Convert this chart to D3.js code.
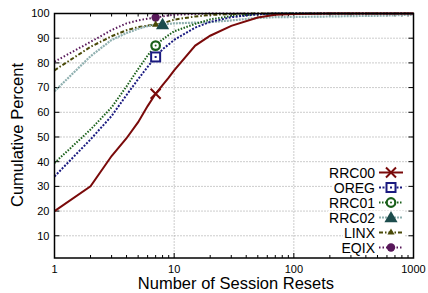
<!DOCTYPE html>
<html>
<head>
<meta charset="utf-8">
<script src="https://cdn.jsdelivr.net/npm/d3@7"></script>
<style>
  body { margin: 0; background: #fff; }
  text { font-family: "Liberation Sans", Arial, sans-serif; }
</style>
</head>
<body>
<div id="chart"></div>
<script>
// data
const resets = [1, 2, 3, 4, 5, 6, 7, 8, 9, 10, 15, 20, 30, 50, 70, 100, 200, 500, 1000];
const rrc00 = [20, 30, 42.3, 49.5, 56, 62.5, 67.5, 71, 74, 77, 87, 91, 95, 98.4, 99.5, 99.8, 100, 100, 100];
const oreg  = [34, 49, 58.5, 67, 73.4, 78.4, 82.4, 85.5, 87.5, 89.3, 94.3, 96.6, 98.5, 99.7, 100, 100, 100, 100, 100];
const rrc01 = [39.5, 53, 62, 70.5, 77.5, 83, 87, 89.5, 91.3, 92.8, 95.8, 97.6, 99, 99.7, 100, 100, 100, 100, 100];
const rrc02 = [68.5, 82.7, 89.3, 92.1, 93.8, 94.9, 95.4, 95.6, 95.8, 96, 96.3, 96.5, 97.2, 98.2, 98.5, 98.6, 98.8, 99.1, 99.5];
const linx  = [77, 86.5, 90.8, 93.2, 94.5, 95.1, 95.5, 96, 96.8, 97.5, 98.8, 99.4, 99.8, 100, 100, 100, 100, 100, 100];
const eqix  = [80.5, 88.5, 93.3, 96, 97.2, 97.9, 98.4, 98.8, 99.2, 99.5, 99.8, 100, 100, 100, 100, 100, 100, 100, 100];
const seriesNames = ["RRC00", "OREG", "RRC01", "RRC02", "LINX", "EQIX"];
const markerAt = [7, 7, 7, 8, 7, 7];
const yTicks = [10, 20, 30, 40, 50, 60, 70, 80, 90, 100];
const xTicks = [1, 10, 100, 1000];

const allValues = [rrc00, oreg, rrc01, rrc02, linx, eqix];

// looks, one per series
const styles = [
  { color: "#7a0a0a", dash: null,      width: 2,   marker: "cross" },
  { color: "#1a1a80", dash: "2,1.5",   width: 2,   marker: "square" },
  { color: "#1a601a", dash: "1.5,1.5", width: 2,   marker: "circle" },
  { color: "#8fb0b0", dash: "2,1",     width: 2.2, marker: "triangle", mcolor: "#1c4c4c" },
  { color: "#4a4a08", dash: "4,2,1.5,2", width: 2, marker: "smalltri" },
  { color: "#58185a", dash: "1.5,2",   width: 2,   marker: "dot" }
];

const W = 428, H = 293;
const margin = { top: 13.5, right: 14.5, bottom: 35, left: 54.5 };
const width = W - margin.left - margin.right,
  height = H - margin.top - margin.bottom;

const svg = d3.select("#chart").append("svg")
  .attr("width", W)
  .attr("height", H);

const g = svg.append("g")
  .attr("transform", "translate(" + margin.left + "," + margin.top + ")");

const x = d3.scaleLog().domain([1, 1000]).range([0, width]);
const y = d3.scaleLinear().domain([1, 100]).range([height, 0]);

// grid
g.append("g").selectAll("line")
  .data(yTicks.filter(d => d < 100)).enter().append("line")
    .attr("x1", 0).attr("x2", width)
    .attr("y1", d => y(d)).attr("y2", d => y(d))
    .attr("stroke", "#999").attr("stroke-width", 1)
    .attr("stroke-dasharray", "1,2");
g.append("g").selectAll("line")
  .data([10, 100]).enter().append("line")
    .attr("x1", d => x(d)).attr("x2", d => x(d))
    .attr("y1", 0).attr("y2", height)
    .attr("stroke", "#999").attr("stroke-width", 1)
    .attr("stroke-dasharray", "1,2");

// ticks (inward, mirrored)
const minor = [];
[1, 10, 100].forEach(function (b) { for (let k = 2; k < 10; k++) minor.push(b * k); });
const tickG = g.append("g").attr("stroke", "#000").attr("stroke-width", 1);
yTicks.forEach(function (d) {
  tickG.append("line").attr("x1", 0).attr("x2", 5).attr("y1", y(d)).attr("y2", y(d));
  tickG.append("line").attr("x1", width - 5).attr("x2", width).attr("y1", y(d)).attr("y2", y(d));
});
xTicks.forEach(function (d) {
  tickG.append("line").attr("x1", x(d)).attr("x2", x(d)).attr("y1", height).attr("y2", height - 5);
  tickG.append("line").attr("x1", x(d)).attr("x2", x(d)).attr("y1", 0).attr("y2", 5);
});
minor.forEach(function (d) {
  tickG.append("line").attr("x1", x(d)).attr("x2", x(d)).attr("y1", height).attr("y2", height - 3);
  tickG.append("line").attr("x1", x(d)).attr("x2", x(d)).attr("y1", 0).attr("y2", 3);
});

// tick labels
g.append("g").selectAll("text")
  .data(yTicks).enter().append("text")
    .attr("x", -5).attr("y", d => y(d)).attr("dy", "0.35em")
    .attr("text-anchor", "end")
    .style("font-size", "11px")
    .text(d => d);
g.append("g").selectAll("text")
  .data(xTicks).enter().append("text")
    .attr("x", d => x(d)).attr("y", height + 14.5)
    .attr("text-anchor", "middle")
    .style("font-size", "11px")
    .text(d => d);

// axis titles
svg.append("text")
  .attr("transform", "translate(23," + 135 + ") rotate(-90)")
  .attr("text-anchor", "middle")
  .style("font-size", "16.5px")
  .text("Cumulative Percent");
svg.append("text")
  .attr("x", 236).attr("y", 288.5)
  .attr("text-anchor", "middle")
  .style("font-size", "16.5px")
  .text("Number of Session Resets");

// markers
function drawMarker(sel, type, cx, cy, color) {
  if (type === "cross") {
    sel.append("path").attr("d", "M" + (cx - 5) + "," + (cy - 5) + "L" + (cx + 5) + "," + (cy + 5) + "M" + (cx - 5) + "," + (cy + 5) + "L" + (cx + 5) + "," + (cy - 5))
      .attr("stroke", color).attr("stroke-width", 2).attr("fill", "none");
  } else if (type === "square") {
    sel.append("rect").attr("x", cx - 4.5).attr("y", cy - 4.5).attr("width", 9).attr("height", 9)
      .attr("fill", "#fff").attr("stroke", color).attr("stroke-width", 2);
    sel.append("rect").attr("x", cx - 1).attr("y", cy - 1).attr("width", 2).attr("height", 2).attr("fill", color);
  } else if (type === "circle") {
    sel.append("circle").attr("cx", cx).attr("cy", cy).attr("r", 4.3)
      .attr("fill", "#fff").attr("stroke", color).attr("stroke-width", 2.2);
    sel.append("circle").attr("cx", cx).attr("cy", cy).attr("r", 1).attr("fill", color);
  } else if (type === "triangle") {
    sel.append("path").attr("d", d3.symbol(d3.symbolTriangle, 75)()).attr("transform", "translate(" + cx + "," + (cy + 1) + ")")
      .attr("fill", color);
  } else if (type === "smalltri") {
    sel.append("path").attr("d", d3.symbol(d3.symbolTriangle, 22)()).attr("transform", "translate(" + cx + "," + cy + ")")
      .attr("fill", color);
  } else if (type === "dot") {
    sel.append("circle").attr("cx", cx).attr("cy", cy).attr("r", 4.2).attr("fill", color);
  }
}

const line = d3.line()
  .x(d => x(d[0]))
  .y(d => y(d[1]));

// draw in reverse so RRC00 is on top
for (let i = seriesNames.length - 1; i >= 0; i--) {
  const s = styles[i];
  const pts = resets.map((r, k) => [r, allValues[i][k]]);
  g.append("path")
    .datum(pts)
    .attr("d", line)
    .attr("fill", "none")
    .attr("stroke", s.color)
    .attr("stroke-width", s.width)
    .attr("stroke-dasharray", s.dash);
}
for (let i = seriesNames.length - 1; i >= 0; i--) {
  const s = styles[i];
  const k = resets.indexOf(markerAt[i]);
  drawMarker(g, s.marker, x(markerAt[i]), y(allValues[i][k]), s.mcolor || s.color);
}

// frame
g.append("rect")
  .attr("x", 0).attr("y", 0).attr("width", width).attr("height", height)
  .attr("fill", "none").attr("stroke", "#000").attr("stroke-width", 1.5);

// legend
const legend = svg.append("g");
seriesNames.forEach(function (name, i) {
  const s = styles[i];
  const ly = 172.5 + i * 15;
  const row = legend.append("g");
  const bg = row.append("rect").attr("fill", "#fff");
  const t = row.append("text")
    .attr("x", 375).attr("y", ly).attr("dy", "0.36em")
    .attr("text-anchor", "end")
    .style("font-size", "14px")
    .text(name);
  const bb = t.node().getBBox();
  bg.attr("x", bb.x - 1).attr("y", ly - 6.5).attr("width", 405 - bb.x + 1).attr("height", 13);
  row.append("line")
    .attr("x1", 379).attr("x2", 403).attr("y1", ly).attr("y2", ly)
    .attr("stroke", s.color).attr("stroke-width", s.width)
    .attr("stroke-dasharray", s.dash);
  drawMarker(row, s.marker, 391, ly, s.mcolor || s.color);
});
</script>
</body>
</html>
